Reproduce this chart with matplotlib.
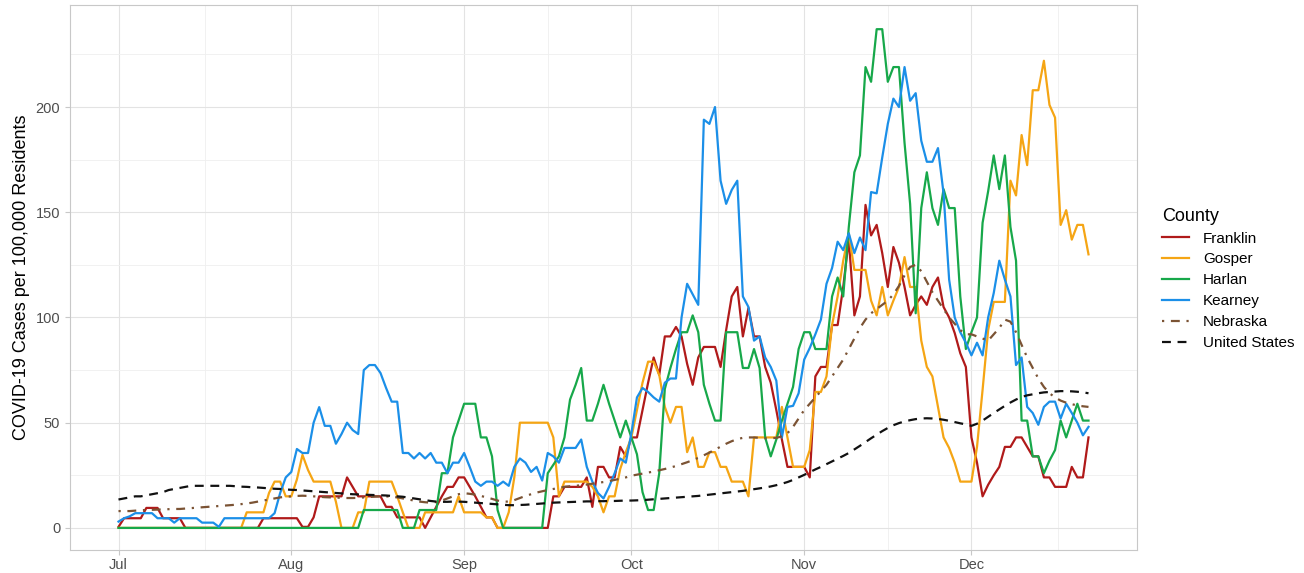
import pandas as pd
import matplotlib.pyplot as plt
import matplotlib.dates as mdates

plt.rcParams['font.family'] = ['Liberation Sans', 'DejaVu Sans']

# daily 7-day average cases per 100k, Jul 1 - Dec 22 2020
dates = pd.date_range("2020-07-01", "2020-12-22", freq="D")

franklin = [
    0.5, 4.6, 4.6, 4.6, 4.6, 9.5, 9.5, 9.5, 4.6, 4.6, 4.6, 4.6, 0, 0, 0, 0, 0, 0, 0, 0, 0, 0, 0, 0, 0, 0, 4.6, 4.6, 4.6, 4.6, 4.6,
    4.6, 4.6, 0.5, 0.5, 5, 15, 15, 15, 15, 15, 24, 19.5, 15, 15, 15, 15, 15, 10, 10, 5, 5, 5, 5, 5, 0, 5, 10, 15, 19.5, 19.5, 24,
    24, 19.5, 15, 10, 5, 5, 0, 0, 0, 0, 0, 0, 0, 0, 0, 0, 15, 15, 19.5, 19.5, 19.5, 19.5, 24, 10, 29, 29, 24, 24, 38.5, 34,
    43, 43, 56, 69, 81, 72.7, 91, 91, 95.5, 91, 78, 68, 81, 86, 86, 86, 76.5, 94, 110, 114.5, 91, 104.5, 91, 91, 76.5, 69, 56, 42, 29, 29, 29,
    29, 24, 72, 76.5, 76.5, 96.4, 96.4, 114.5, 137, 101, 110, 153.5, 139, 144, 130.6, 114.5, 133.5, 126, 114.5, 101, 106, 110, 106, 114.5, 119, 105, 100, 92.6, 83, 76.5,
    43, 31, 15, 20.5, 25, 29, 38.5, 38.5, 43, 43, 38.5, 34, 34, 24, 24, 19.5, 19.5, 19.5, 29, 24, 24, 43,
]

gosper = [
    0, 0, 0, 0, 0, 0, 0, 0, 0, 0, 0, 0, 0, 0, 0, 0, 0, 0, 0, 0, 0, 0, 0, 7.4, 7.4, 7.4, 7.4, 16.6, 22, 22, 15,
    15, 23, 34.7, 27.5, 22, 22, 22, 22, 12.4, 0, 0, 0, 7.4, 7.4, 22, 22, 22, 22, 22, 15, 7.4, 0, 0, 0, 7.4, 7.4, 7.4, 7.4, 7.4, 7.4, 15,
    7.4, 7.4, 7.4, 7.4, 5, 5, 0, 0, 7.4, 24, 50, 50, 50, 50, 50, 50, 43, 15, 22, 22, 22, 22, 22, 19.5, 15, 7.4, 15, 15, 28, 36,
    43, 56, 69, 79, 79, 72.7, 57.5, 50, 57.5, 57.5, 36, 43, 29, 29, 36, 36, 29, 29, 22, 22, 22, 15, 43, 43, 43, 43, 43, 57.5, 43, 29, 29,
    29, 37, 64.6, 64.6, 72, 96.4, 110, 127, 140, 122.6, 122.6, 122.6, 108, 101, 114.5, 101, 108, 114.5, 128.7, 114.5, 114.5, 89, 76.5, 72, 57.5, 43, 38, 31, 22, 22,
    22, 38.5, 65.6, 94, 107.4, 107.4, 107.4, 165, 158, 186.7, 172.4, 208, 208, 222, 201, 195, 144, 151, 137, 144, 144, 130,
]

harlan = [
    0, 0, 0, 0, 0, 0, 0, 0, 0, 0, 0, 0, 0, 0, 0, 0, 0, 0, 0, 0, 0, 0, 0, 0, 0, 0, 0, 0, 0, 0, 0,
    0, 0, 0, 0, 0, 0, 0, 0, 0, 0, 0, 0, 0, 8.5, 8.5, 8.5, 8.5, 8.5, 8.5, 8.5, 0, 0, 0, 8.5, 8.5, 8.5, 8.5, 26, 26, 43, 51,
    59, 59, 59, 43, 43, 34, 8.5, 0, 0, 0, 0, 0, 0, 0, 0, 26, 30, 34, 43, 61, 68, 76, 51, 51, 59, 68, 59, 51, 43, 51,
    43, 35, 17, 8.5, 8.5, 26, 66, 76, 85, 93, 93, 101, 93, 68, 59, 51, 51, 93, 93, 93, 76, 76, 85, 76, 43, 34, 42, 51, 59, 67, 85,
    93, 93, 85, 85, 85, 110, 119, 110, 143, 169, 177, 219, 212, 237, 237, 212, 219, 219, 183, 154, 102, 152, 169, 152, 144, 161, 152, 152, 110, 85,
    93, 100, 145, 160, 177, 161, 177, 143, 127, 51, 51, 34, 34, 26, 32, 37, 51, 43, 51, 59, 51, 51,
]

kearney = [
    3, 4.6, 5.5, 7, 7, 7, 7, 4.6, 4.6, 4.6, 2.5, 4.6, 4.6, 4.6, 4.6, 2.5, 2.5, 2.5, 0.5, 4.6, 4.6, 4.6, 4.6, 4.6, 4.6, 4.6, 4.6, 4.6, 7, 16.6, 24,
    26.6, 37.5, 35.6, 35.6, 50, 57.4, 48.5, 48.5, 40, 44.6, 50, 46.5, 44.6, 75, 77.4, 77.4, 73.6, 66.5, 60, 60, 35.6, 35.6, 33, 35.6, 33, 35.6, 31, 31, 26, 31, 31,
    35.6, 29, 22, 20, 22, 22, 20, 22, 20, 29, 33, 31, 26.6, 29, 22.5, 35.6, 34, 31, 38, 38, 38, 42, 29, 22, 16.6, 14, 19.5, 26, 33, 31,
    45, 62, 66.5, 64.6, 62, 60, 69, 71, 71, 100, 116, 111, 106, 194, 192, 200, 165, 154, 160.6, 165, 110, 105, 89, 91, 81, 76.5, 70, 43, 57.5, 58, 64,
    80, 85.5, 92, 99, 116, 123.5, 136, 132, 140, 130.6, 138, 132, 159.6, 159, 176, 192, 204, 200, 219, 203, 206.6, 184, 174, 174, 180.5, 159, 118, 100, 93, 88,
    82, 88, 82, 100, 111.6, 127, 118, 110, 77.4, 81, 57.5, 54.6, 49, 57.5, 60, 60, 52, 59, 54.6, 50, 44, 48,
]

nebraska = [
    8, 8, 8, 8.2, 8.4, 8.5, 8.6, 8.7, 8.8, 8.9, 9, 9, 9.2, 9.4, 9.6, 9.8, 10, 10.2, 10.4, 10.6, 10.8, 11, 11.3, 11.6, 12, 12.5, 13, 13.5, 14, 14.5, 14.8,
    15, 15.2, 15.3, 15.2, 15, 14.8, 14.6, 14.5, 14.4, 14.3, 14.2, 14.2, 14.3, 14.5, 14.7, 14.9, 15, 15, 14.8, 14.5, 14, 13.5, 13, 12.5, 12.2, 12, 12.3, 13, 14, 15, 16,
    16.5, 16.2, 15.8, 15.2, 14.5, 13.8, 13, 12.5, 12.5, 13.2, 14.2, 15.2, 16, 16.8, 17.4, 18, 18.5, 19, 19.5, 19.8, 20, 20.3, 20.6, 21, 21.4, 21.8, 22.3, 22.8, 23.4, 24,
    24.8, 25.3, 25.8, 26.3, 26.8, 27.4, 28, 28.7, 29.4, 30.3, 31.2, 32.2, 33.3, 34.5, 35.8, 37.2, 38.6, 40, 41.2, 42.2, 42.8, 43, 43, 42.8, 42.6, 42.6, 42.8, 43.5, 45, 48, 52,
    56, 59, 62, 65, 68, 72, 76, 80, 85, 90, 95, 99, 102, 104, 106, 108, 111, 115, 120, 124, 125, 122, 117, 112, 108, 104, 100, 97, 94, 92,
    92, 91, 90, 89, 92, 95, 99, 98, 93, 87, 81, 76, 71, 67, 64, 62, 60.5, 59.5, 58.8, 58.2, 57.8, 57.5,
]

united_states = [
    13.5, 14, 14.5, 15, 15, 15.5, 16, 16.5, 17, 18, 18.5, 19, 19.5, 20, 20, 20, 20, 20, 20, 20, 20, 19.8, 19.6, 19.5, 19.3, 19.2, 19, 18.8, 18.6, 18.5, 18.3,
    18.1, 18, 17.8, 17.6, 17.4, 17.2, 17, 16.8, 16.6, 16.4, 16.2, 16, 15.9, 15.8, 15.7, 15.6, 15.5, 15.4, 15.2, 15, 14.8, 14.4, 14, 13.6, 13.2, 12.8, 12.5, 12.4, 12.4, 12.5, 12.5,
    12.4, 12.2, 12, 11.8, 11.6, 11.4, 11.2, 11, 10.8, 10.8, 10.9, 11, 11.2, 11.4, 11.6, 11.8, 12, 12.1, 12.2, 12.3, 12.4, 12.5, 12.6, 12.6, 12.7, 12.7, 12.8, 12.8, 12.9, 13,
    13, 13.1, 13.2, 13.4, 13.6, 13.8, 14, 14.2, 14.4, 14.6, 14.8, 15, 15.2, 15.5, 15.8, 16.1, 16.4, 16.7, 17, 17.3, 17.6, 18, 18.4, 18.8, 19.2, 19.7, 20.3, 21, 21.8, 22.8, 24,
    25.2, 26.5, 27.8, 29, 30.3, 31.6, 32.9, 34.2, 35.6, 37.3, 39, 40.8, 42.6, 44.3, 46, 47.5, 48.8, 49.8, 50.6, 51.2, 51.7, 52, 52.1, 52, 51.8, 51.4, 50.9, 50.3, 49.7, 49.2,
    48.5, 49.5, 51, 52.8, 54.6, 56.3, 58, 59.6, 61, 62.2, 63, 63.5, 64, 64.4, 64.6, 64.8, 65, 65, 64.9, 64.7, 64.4, 64,
]

county_names = ["Franklin", "Gosper", "Harlan", "Kearney", "Nebraska", "United States"]
county_colors = ["#b01a1a", "#f5a514", "#17a84a", "#1b8fe8", "#7b5334", "#111111"]
month_ticks = pd.to_datetime(["2020-07-01", "2020-08-01", "2020-09-01",
                              "2020-10-01", "2020-11-01", "2020-12-01"])
month_labels = ["Jul", "Aug", "Sep", "Oct", "Nov", "Dec"]


def main():
    fig = plt.figure(figsize=(13.04, 5.73), dpi=100)
    ax = fig.add_axes([70 / 1304, 1 - 550 / 573, 1067 / 1304, 545 / 573])

    series = [franklin, gosper, harlan, kearney, nebraska, united_states]
    styles = ["-", "-", "-", "-", (0, (1, 3, 4, 3)), (0, (4, 3))]
    for name, values, color, ls in zip(county_names, series, county_colors, styles):
        ax.plot(dates, values, color=color, linestyle=ls, linewidth=1.6, label=name)

    # axis limits with ggplot-style padding
    pad = pd.Timedelta(days=8.7)
    ax.set_xlim(dates[0] - pad, dates[-1] + pad)
    ax.set_ylim(-10.5, 248.5)

    ax.set_xticks(month_ticks)
    ax.set_xticklabels(month_labels)
    mids = month_ticks[:-1] + (month_ticks[1:] - month_ticks[:-1]) / 2
    mids = mids.append(pd.DatetimeIndex([pd.Timestamp("2020-12-16 12:00")]))
    ax.set_xticks(mids, minor=True)
    ax.set_yticks([0, 50, 100, 150, 200])
    ax.set_yticks([25, 75, 125, 175, 225], minor=True)

    ax.grid(True, which="major", color="#e3e3e3", linewidth=0.8)
    ax.grid(True, which="minor", color="#efefef", linewidth=0.6)
    ax.set_axisbelow(True)
    for sp in ax.spines.values():
        sp.set_color("#c8c8c8")
        sp.set_linewidth(0.8)
    ax.tick_params(which="major", length=3.5, width=0.8, color="#c8c8c8",
                   labelcolor="#4d4d4d", labelsize=10.5)
    ax.tick_params(axis="x", which="major", pad=2)
    ax.tick_params(which="minor", length=0)

    ax.set_ylabel("COVID-19 Cases per 100,000 Residents", fontsize=13, color="black")

    leg = fig.legend(loc="upper left", bbox_to_anchor=(1148 / 1304, 1 - 194 / 573),
                     title="County", frameon=False, fontsize=11, title_fontsize=13,
                     handlelength=1.8, handletextpad=0.9, labelspacing=0.45)
    leg._legend_box.align = "left"

    fig.savefig("out.png", dpi=100)


if __name__ == "__main__":
    main()
